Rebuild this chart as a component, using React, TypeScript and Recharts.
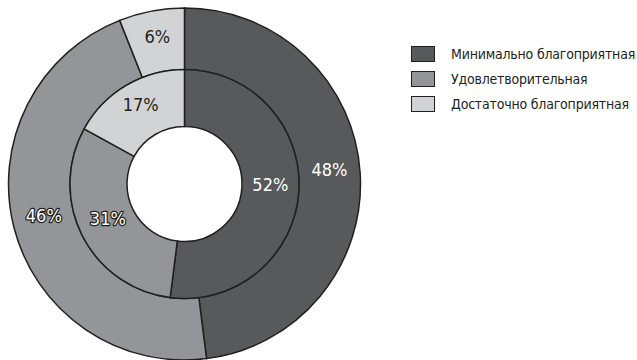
import React from 'react';
import { PieChart, Pie, Cell } from 'recharts';

// Categories and shares (percent) for the two rings
const categories = ['Минимально благоприятная', 'Удовлетворительная', 'Достаточно благоприятная'];
const innerValues = [52, 31, 17];
const outerValues = [48, 46, 6];

const innerData = categories.map((name, i) => ({ name, value: innerValues[i] }));
const outerData = categories.map((name, i) => ({ name, value: outerValues[i] }));

const FILLS = ['#58595b', '#939598', '#d1d3d4'];
const EDGE = '#231f20';
const FONT = '"Liberation Sans Narrow", "DejaVu Sans Condensed", "DejaVu Sans", sans-serif';
const RAD = Math.PI / 180;

const CX = 184.5;
const CY = 184;

function renderLabel(props: any) {
  const { cx, cy, midAngle, innerRadius, outerRadius, value, index } = props;
  const r = (innerRadius + outerRadius) / 2;
  const x = cx + r * Math.cos(-midAngle * RAD);
  const y = cy + r * Math.sin(-midAngle * RAD) - 5;
  const outlined = index === 1;
  const fill = index === 2 ? EDGE : '#ffffff';
  return (
    <text
      x={x}
      y={y}
      textAnchor="middle"
      dominantBaseline="central"
      fontFamily={FONT}
      fontSize={18}
      style={{ fontStretch: 'condensed' }}
      fill={fill}
      stroke={outlined ? EDGE : 'none'}
      strokeWidth={outlined ? 2.5 : 0}
      strokeLinejoin="round"
      paintOrder="stroke"
    >
      {`${value}%`}
    </text>
  );
}

function LegendBox() {
  return (
    <div
      style={{
        position: 'absolute',
        left: 411,
        top: 41,
        fontFamily: FONT,
        fontStretch: 'condensed',
        fontSize: 14,
        letterSpacing: '-0.2px',
        color: '#231f20',
        whiteSpace: 'nowrap',
      }}
    >
      {categories.map((name, i) => (
        <div key={name} style={{ display: 'flex', alignItems: 'center', height: 25 }}>
          <span
            style={{
              display: 'inline-block',
              width: 24,
              height: 16,
              background: FILLS[i],
              border: `1.5px solid ${EDGE}`,
              boxSizing: 'border-box',
              marginRight: 16,
            }}
          />
          <span>{name}</span>
        </div>
      ))}
    </div>
  );
}

export default function App() {
  return (
    <div style={{ position: 'relative', width: 637, height: 360, background: '#ffffff' }}>
      <style>{`body{margin:0;}`}</style>
      <PieChart width={637} height={360} margin={{ top: 0, right: 0, bottom: 0, left: 0 }}>
        <Pie
          data={outerData}
          dataKey="value"
          nameKey="name"
          cx={CX}
          cy={CY}
          innerRadius={114.5}
          outerRadius={176}
          startAngle={90}
          endAngle={-270}
          stroke={EDGE}
          strokeWidth={1.5}
          label={renderLabel}
          labelLine={false}
          isAnimationActive={false}
        >
          {outerData.map((d, i) => (
            <Cell key={d.name} fill={FILLS[i]} />
          ))}
        </Pie>
        <Pie
          data={innerData}
          dataKey="value"
          nameKey="name"
          cx={CX}
          cy={CY}
          innerRadius={57.5}
          outerRadius={114.5}
          startAngle={90}
          endAngle={-270}
          stroke={EDGE}
          strokeWidth={1.5}
          label={renderLabel}
          labelLine={false}
          isAnimationActive={false}
        >
          {innerData.map((d, i) => (
            <Cell key={d.name} fill={FILLS[i]} />
          ))}
        </Pie>
      </PieChart>
      <LegendBox />
    </div>
  );
}
